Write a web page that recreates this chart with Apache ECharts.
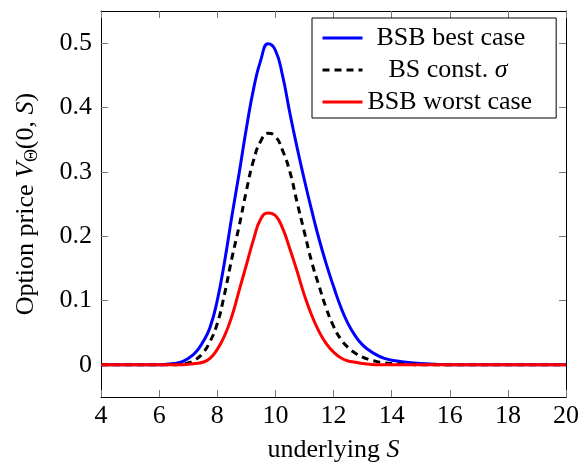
<!DOCTYPE html>
<html>
<head>
<meta charset="utf-8">
<script src="https://cdn.jsdelivr.net/npm/echarts@6/dist/echarts.min.js"></script>
<style>
  html, body { margin: 0; padding: 0; background: #fff; }
  #chart { width: 582px; height: 468px; }
</style>
</head>
<body>
<div id="chart"></div>
<script>
// Underlying prices S
const sValues = [4, 5, 6, 6.25, 6.5, 6.75, 7, 7.25, 7.5, 7.75, 8, 8.25, 8.5, 8.75, 9, 9.25, 9.5, 9.75,
  10, 10.25, 10.5, 10.75, 11, 11.25, 11.5, 11.75, 12, 12.25, 12.5, 12.75, 13, 13.25, 13.5, 13.75, 14,
  14.5, 15, 15.5, 16, 17, 18, 19, 20];

// Option price V(0, S) for each scenario
const bestCase = [0, 0, 0, 0.001, 0.002, 0.004, 0.010, 0.019, 0.035, 0.058, 0.100, 0.160, 0.230, 0.297, 0.367, 0.429, 0.474, 0.499,
  0.489, 0.449, 0.391, 0.337, 0.287, 0.240, 0.196, 0.157, 0.122, 0.090, 0.064, 0.045, 0.031, 0.022, 0.015, 0.010, 0.007,
  0.004, 0.002, 0.001, 0, 0, 0, 0, 0];
const constSigma = [0, 0, 0, 0, 0, 0.001, 0.003, 0.008, 0.018, 0.036, 0.064, 0.110, 0.165, 0.215, 0.270, 0.318, 0.348, 0.360,
  0.355, 0.333, 0.300, 0.252, 0.206, 0.160, 0.123, 0.088, 0.060, 0.040, 0.027, 0.018, 0.012, 0.008, 0.005, 0.003, 0.002,
  0.001, 0, 0, 0, 0, 0, 0, 0];
const worstCase = [0, 0, 0, 0, 0, 0, 0.001, 0.002, 0.004, 0.010, 0.024, 0.045, 0.075, 0.115, 0.155, 0.195, 0.227, 0.236,
  0.232, 0.212, 0.180, 0.145, 0.108, 0.077, 0.052, 0.033, 0.020, 0.011, 0.006, 0.004, 0.002, 0.001, 0, 0, 0,
  0, 0, 0, 0, 0, 0, 0, 0];

const seriesNames = ['BSB best case', 'BS const. σ', 'BSB worst case'];
const yTickValues = [0, 0.1, 0.2, 0.3, 0.4, 0.5];

const FONT = 'Liberation Serif';
const SIZE = 26;
const INK = '#000';
const TICK = '#777';

const pairs = vals => sValues.map((s, i) => [s, vals[i]]);

const chart = echarts.init(document.getElementById('chart'));

const lineSeries = (name, vals, color, type) => ({
  name,
  type: 'line',
  data: pairs(vals),
  smooth: 0.5,
  symbol: 'none',
  lineStyle: { color, width: 3, type },
  itemStyle: { color },
  animation: false
});

const txt = extra => Object.assign({ fontFamily: FONT, fontSize: SIZE, color: INK }, extra || {});

chart.setOption({
  animation: false,
  backgroundColor: '#fff',
  grid: { left: 101, right: 15, top: 11, bottom: 71 },
  xAxis: [{
    type: 'value', min: 4, max: 20, interval: 2, position: 'bottom',
    name: '{r|underlying }{i|S}',
    nameLocation: 'middle', nameGap: 40,
    nameTextStyle: txt({ rich: { r: txt(), i: txt({ fontStyle: 'italic' }) } }),
    axisLine: { show: true, onZero: false, lineStyle: { color: INK, width: 1 } },
    axisTick: { show: true, inside: true, length: 7, lineStyle: { color: TICK, width: 1 } },
    axisLabel: txt({ margin: 6 }),
    splitLine: { show: false }
  }, {
    type: 'value', min: 4, max: 20, interval: 2, position: 'top',
    axisLine: { show: true, onZero: false, lineStyle: { color: INK, width: 1 } },
    axisTick: { show: true, inside: true, length: 7, lineStyle: { color: TICK, width: 1 } },
    axisLabel: { show: false },
    splitLine: { show: false }
  }],
  yAxis: [{
    type: 'value', min: -0.05, max: 0.55, position: 'left',
    name: '{r|Option price }{i|V}{s|Θ}{r|(0, }{i|S}{r|)}',
    nameLocation: 'middle', nameGap: 60, nameRotate: 90,
    nameTextStyle: txt({
      rich: {
        r: txt({ lineHeight: 30 }),
        i: txt({ fontStyle: 'italic', lineHeight: 30 }),
        s: txt({ fontSize: 18, lineHeight: 14, verticalAlign: 'bottom' })
      }
    }),
    axisLine: { show: true, onZero: false, lineStyle: { color: INK, width: 1 } },
    axisTick: { show: true, inside: true, length: 7, customValues: yTickValues, lineStyle: { color: TICK, width: 1 } },
    axisLabel: txt({
      margin: 9,
      customValues: yTickValues,
      formatter: v => (v === 0 ? '0' : String(v))
    }),
    splitLine: { show: false }
  }, {
    type: 'value', min: -0.05, max: 0.55, position: 'right',
    axisLine: { show: true, onZero: false, lineStyle: { color: INK, width: 1 } },
    axisTick: { show: true, inside: true, length: 7, customValues: yTickValues, lineStyle: { color: TICK, width: 1 } },
    axisLabel: { show: false },
    splitLine: { show: false }
  }],
  legend: {
    data: seriesNames,
    orient: 'vertical',
    left: 312, top: 18,
    padding: [7, 24, 3, 9],
    itemWidth: 40, itemHeight: 26, itemGap: 6,
    backgroundColor: '#fff',
    borderColor: INK, borderWidth: 1, borderRadius: 0,
    lineStyle: { width: 3 },
    itemStyle: { opacity: 0 },
    selectedMode: false,
    formatter: name => {
      if (name === seriesNames[0]) return '{p1| }{t|BSB best case}';
      if (name === seriesNames[1]) return '{p2| }{t|BS const. }{g|σ}';
      return '{t|BSB worst case}';
    },
    textStyle: txt({
      rich: {
        p1: { width: 9 },
        p2: { width: 21 },
        t: txt(),
        g: txt({ fontStyle: 'italic' })
      }
    })
  },
  series: [
    lineSeries(seriesNames[0], bestCase, '#0000ff', 'solid'),
    lineSeries(seriesNames[1], constSigma, '#000000', [7, 5]),
    lineSeries(seriesNames[2], worstCase, '#ff0000', 'solid')
  ]
});
</script>
</body>
</html>
